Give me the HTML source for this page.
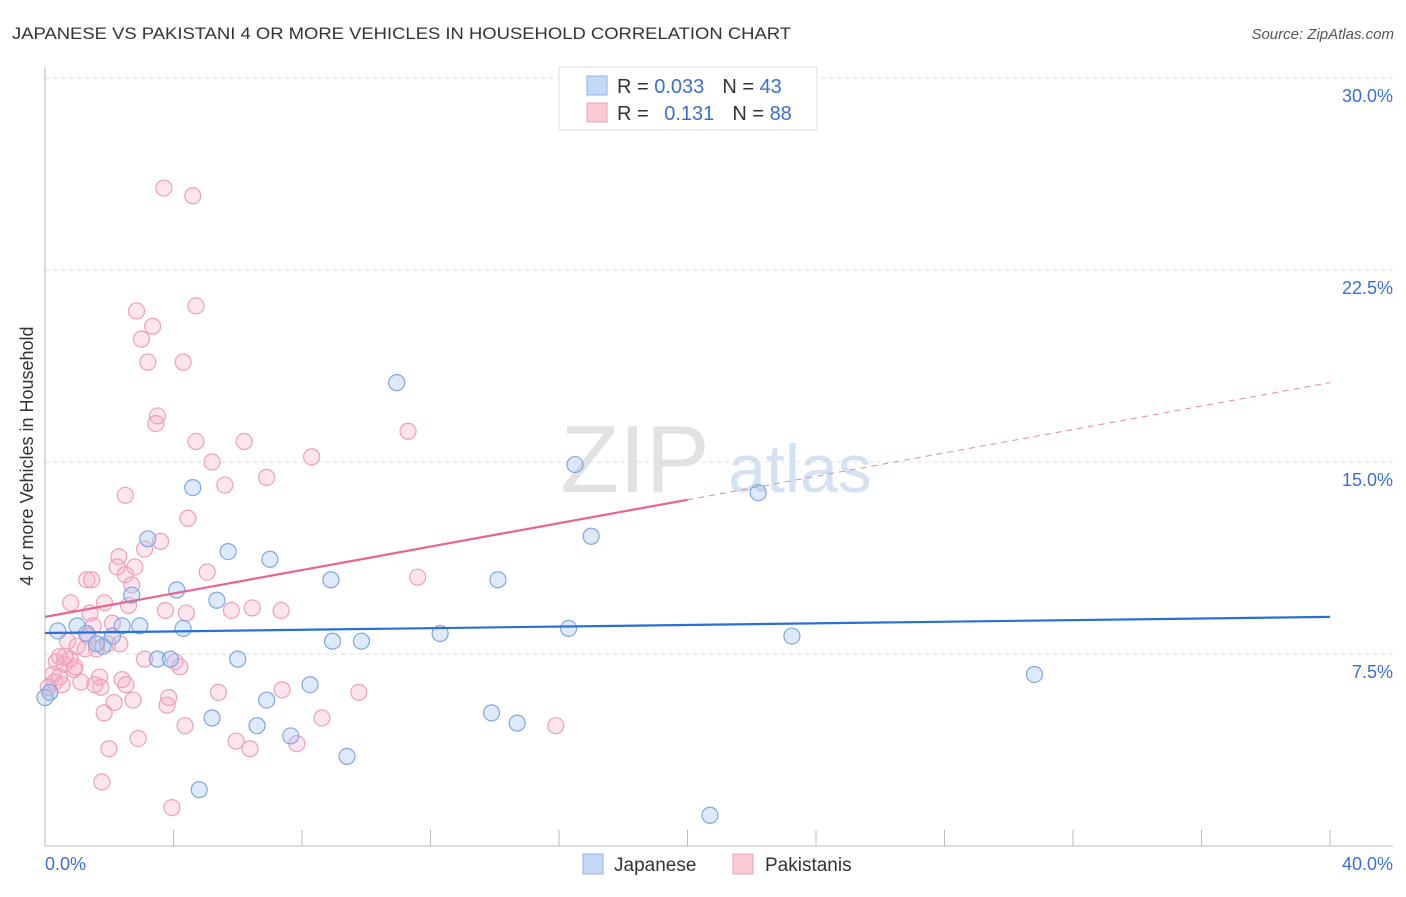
<!DOCTYPE html>
<html><head><meta charset="utf-8"><style>
body{margin:0;background:#fff;font-family:"Liberation Sans",sans-serif;}
svg text{font-family:"Liberation Sans",sans-serif;}
</style></head><body>
<svg id="chart" width="1406" height="892">
<text x="12" y="39" font-size="17" fill="#333" textLength="779" lengthAdjust="spacingAndGlyphs">JAPANESE VS PAKISTANI 4 OR MORE VEHICLES IN HOUSEHOLD CORRELATION CHART</text>
<text x="1394" y="39" font-size="15" fill="#555" text-anchor="end" font-style="italic">Source: ZipAtlas.com</text>
<text x="33" y="456" font-size="18" fill="#333" text-anchor="middle" transform="rotate(-90 33 456)">4 or more Vehicles in Household</text>
<g><text x="635" y="492" font-size="96" fill="#e2e2e2" font-family="Liberation Serif" text-anchor="middle">ZIP</text><text x="800" y="492" font-size="68" fill="#d3e2f3" text-anchor="middle">atlas</text></g>
<g id="grid"></g><g id="pts"></g><g id="trend"></g>
<g>
<rect x="559" y="67" width="258" height="63" fill="#fff" stroke="#ddd"/>
<rect x="587" y="76" width="20" height="19" fill="#c5d8f5" stroke="#8fb3e8"/>
<rect x="587" y="103" width="20" height="19" fill="#f9c9d6" stroke="#eda0b7"/>
<text x="617" y="93" font-size="20" fill="#333">R = <tspan fill="#3a6fd0">0.033</tspan><tspan dx="18">N = </tspan><tspan fill="#3a6fd0">43</tspan></text>
<text x="617" y="120" font-size="20" fill="#333">R = <tspan fill="#3a6fd0" dx="10">0.131</tspan><tspan dx="18">N = </tspan><tspan fill="#3a6fd0">88</tspan></text>
</g>
<g>
<rect x="583" y="854" width="20" height="20" fill="#c5d8f5" stroke="#8fb3e8"/>
<text x="614" y="871" font-size="19" fill="#333">Japanese</text>
<rect x="733" y="854" width="20" height="20" fill="#f9c9d6" stroke="#eda0b7"/>
<text x="765" y="871" font-size="19" fill="#333">Pakistanis</text>
</g>
</svg>
<script>
const yTicks=[7.5,15,22.5,30];
const yTickLabels=["7.5%","15.0%","22.5%","30.0%"];
const xTickLabels=["0.0%","40.0%"];
const japanX=[0.4,1,1.3,1.8,1.6,2.1,2.4,2.95,2.7,3.2,3.5,3.9,4.1,4.3,4.6,4.8,5.2,5.35,5.7,6,6.6,6.9,7,7.65,8.25,8.9,8.95,9.4,9.85,10.95,12.3,13.9,14.1,14.7,16.3,16.5,17,20.7,22.2,23.25,30.8,0.15,0];
const japanY=[8.4,8.6,8.3,7.8,7.9,8.2,8.6,8.6,9.8,12.0,7.3,7.3,10.0,8.5,14.0,2.2,5.0,9.6,11.5,7.3,4.7,5.7,11.2,4.3,6.3,10.4,8.0,3.5,8.0,18.1,8.3,5.2,10.4,4.8,8.5,14.9,12.1,1.2,13.8,8.2,6.7,6.0,5.8];
const pakX=[3.7,4.6,2.85,4.7,3.35,3.0,3.2,4.3,3.5,3.45,4.7,6.2,11.3,8.3,5.2,6.9,5.6,2.5,4.45,3.6,3.1,2.3,2.25,2.8,2.5,5.05,1.3,1.45,2.7,0.8,1.85,2.6,3.75,4.4,5.8,6.45,7.35,11.6,1.4,2.1,1.5,0.7,1.0,1.25,1.6,1.95,0.45,0.35,0.6,0.9,0.25,0.3,0.45,1.7,2.4,3.1,4.05,4.2,1.12,1.55,1.74,2.52,3.85,5.4,7.38,9.77,2.74,3.8,2.15,1.84,8.62,4.36,15.9,2.9,1.99,5.95,6.38,7.84,1.77,3.95,0.1,0.15,0.53,0.93,1.34,0.78,0.62,2.33];
const pakY=[25.7,25.4,20.9,21.1,20.3,19.8,18.9,18.9,16.8,16.5,15.8,15.8,16.2,15.2,15.0,14.4,14.1,13.7,12.8,11.9,11.6,11.3,10.9,10.9,10.6,10.7,10.4,10.4,10.2,9.5,9.5,9.4,9.2,9.1,9.2,9.3,9.2,10.5,9.1,8.7,8.6,8.0,7.8,7.7,7.7,7.9,7.4,7.2,7.1,6.9,6.7,6.4,6.6,6.6,6.5,7.3,7.2,7.0,6.4,6.3,6.2,6.3,5.8,6.0,6.1,6.0,5.7,5.5,5.6,5.2,5.0,4.7,4.7,4.2,3.8,4.1,3.8,4.0,2.5,1.5,6.2,6.0,6.3,7.0,8.2,7.3,7.4,7.9];
const japanTrend=[8.32,8.95];
const pakTrend=[8.95,18.1];
const ns="http://www.w3.org/2000/svg";
const X=v=>45+v/40*1285, Y=v=>846-v/7.5*192;
function mk(tag,attrs,parent){const e=document.createElementNS(ns,tag);for(const k in attrs)e.setAttribute(k,attrs[k]);parent.appendChild(e);return e;}
const grid=document.getElementById('grid'),pts=document.getElementById('pts'),tr=document.getElementById('trend');
yTicks.forEach((t,i)=>{
 const l=mk('line',{x1:45,x2:1393,y1:Y(t),y2:Y(t),stroke:'#ddd','stroke-dasharray':'4,4'},grid);
 
 
 const tx=mk('text',{x:1393,y:Y(t)+24,'font-size':18,fill:'#3a6fd0','text-anchor':'end'},grid);tx.textContent=yTickLabels[i];
 
 
});
const ax=mk('line',{x1:45,x2:1393,y1:846,y2:846,stroke:'#bbb'},grid);


const ay=mk('line',{x1:45,x2:45,y1:67,y2:846,stroke:'#bbb'},grid);


for(let i=1;i<=10;i++){const t=mk('line',{x1:X(i*4),x2:X(i*4),y1:830,y2:846,stroke:'#bbb'},grid);
 
 }
[[0,'start',45],[1,'end',1393]].forEach(([i,a,x])=>{const t=mk('text',{x:x,y:870,'font-size':18,fill:'#3a6fd0','text-anchor':a},grid);t.textContent=xTickLabels[i];
 
 });
pakX.forEach((v,i)=>{const c=mk('circle',{cx:X(v),cy:Y(pakY[i]),r:8,fill:'rgba(246,170,195,0.3)',stroke:'#eda0b7','stroke-width':1.2},pts);
 
 });
japanX.forEach((v,i)=>{const c=mk('circle',{cx:X(v),cy:Y(japanY[i]),r:8,fill:'rgba(160,195,240,0.35)',stroke:'#7fa7e0','stroke-width':1.2},pts);
 
 });
const jl=mk('line',{x1:X(0),y1:Y(japanTrend[0]),x2:X(40),y2:Y(japanTrend[1]),stroke:'#2a6fd6','stroke-width':2.2},tr);


const f=v=>pakTrend[0]+(pakTrend[1]-pakTrend[0])*v/40;
const pl=mk('line',{x1:X(0),y1:Y(f(0)),x2:X(20),y2:Y(f(20)),stroke:'#e86590','stroke-width':2.2},tr);


const pd=mk('line',{x1:X(20),y1:Y(f(20)),x2:X(40),y2:Y(f(40)),stroke:'#e886a5','stroke-width':1,'stroke-dasharray':'6,5'},tr);


</script>
</body></html>
